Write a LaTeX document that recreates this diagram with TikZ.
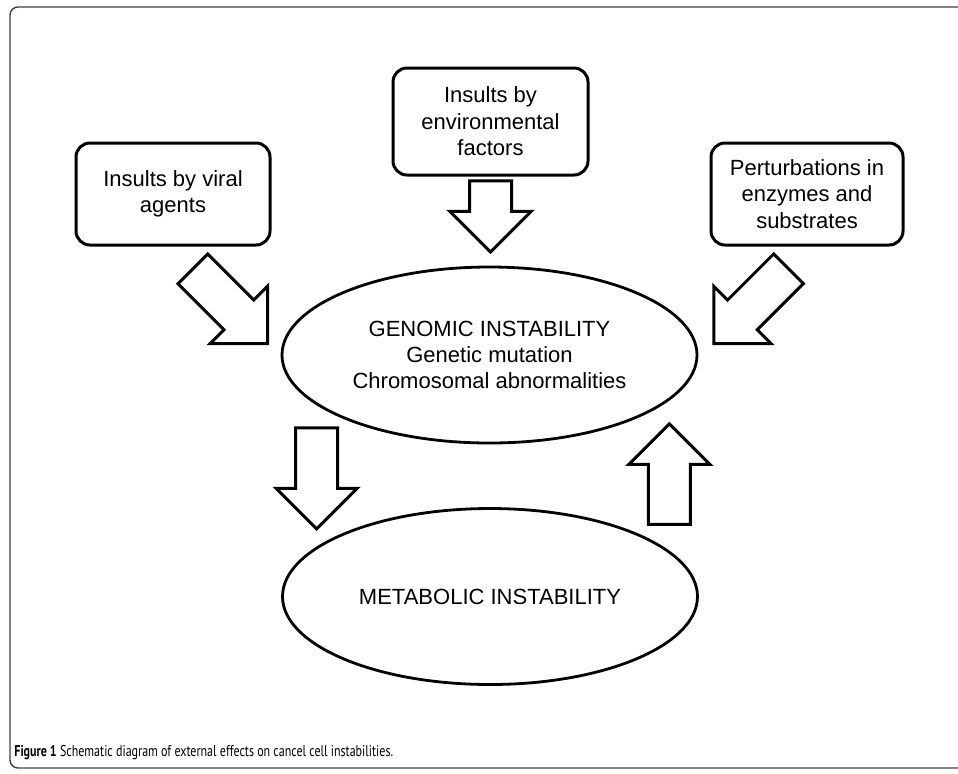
\documentclass[tikz,border=0pt]{standalone}
\usepackage{fontspec}
\setmainfont{Liberation Sans}
\newfontfamily\legende[FakeStretch=0.77]{PT Sans}
\usetikzlibrary{shapes.geometric,shapes.arrows}

\begin{document}
\begin{tikzpicture}[
    x=0.5pt, y=-0.5pt,
    font=\fontsize{11}{13.2}\selectfont,
    cadre/.style={draw=black!75, line width=0.7pt, rounded corners=4pt},
    source/.style={rectangle, rounded corners=7pt, draw, line width=1.5pt,
      align=center, inner sep=2pt},
    etat/.style={ellipse, draw, line width=1.4pt, align=center,
      minimum width=207.5pt, minimum height=88pt},
    grosse/.style={single arrow, draw, line width=1.5pt, inner xsep=0pt,
      inner ysep=9.75pt, single arrow head extend=9.75pt, minimum width=39pt,
      anchor=tip}
  ]
    \useasboundingbox (0,0) rectangle (958,773);
    \draw[cadre] (958,7) -| (10,768) -- (958,768);

    \node[source, minimum width=97pt, minimum height=51pt] (viral) at (173,194) {Insults by viral\\agents};
    \node[source, minimum width=97.5pt, minimum height=53.5pt] (env) at (490.5,121.5) {Insults by\\environmental\\factors};
    \node[source, minimum width=96pt, minimum height=51pt] (enz) at (807,194) {Perturbations in\\enzymes and\\substrates};

    \node[etat] (gen) at (489.5,355) {GENOMIC INSTABILITY\\Genetic mutation\\Chromosomal abnormalities};
    \node[etat] (meta) at (490,596.5) {METABOLIC INSTABILITY};

    \node[grosse, minimum height=52.8pt, rotate=-45]  (fviral) at (269,345) {};
    \node[grosse, minimum height=35.5pt, rotate=-90]  (fenv)   at (490.5,254) {};
    \node[grosse, minimum height=52.8pt, rotate=-135] (fenz)   at (712.3,345) {};
    \node[grosse, minimum height=50.5pt, rotate=-90]  (fbas)   at (316.7,531) {};
    \node[grosse, minimum height=50.3pt, rotate=90]   (fhaut)  at (669.3,421.7) {};

    \node[anchor=base west, inner sep=0pt, font=\legende\fontsize{7.8}{9}\selectfont] (cap) at (14,756)
      {\textbf{Figure 1} Schematic diagram of external effects on cancel cell instabilities.};
  \end{tikzpicture}
\end{document}
